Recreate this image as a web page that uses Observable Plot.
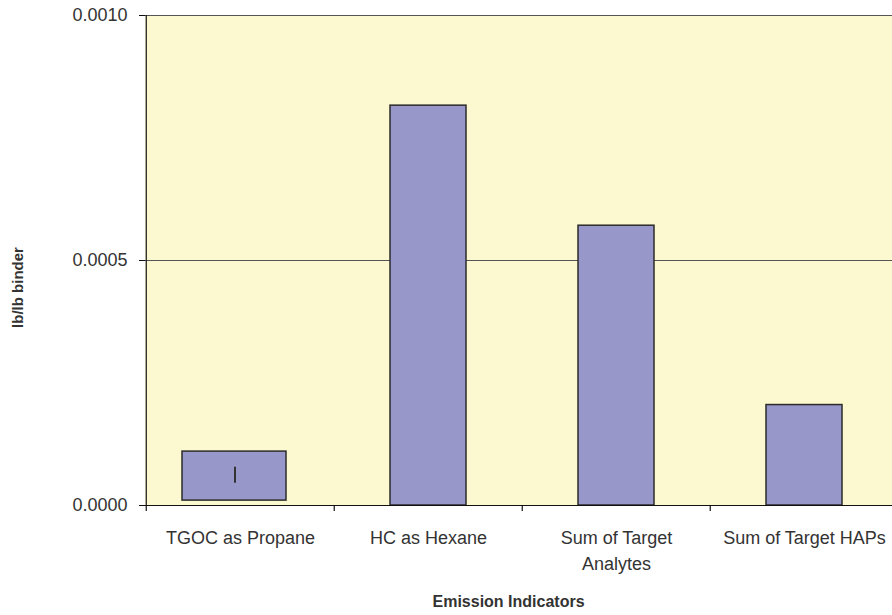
<!DOCTYPE html>
<html>
<head>
<meta charset="utf-8">
<script src="https://cdn.jsdelivr.net/npm/d3@7"></script>
<script src="https://cdn.jsdelivr.net/npm/@observablehq/plot@0.6"></script>
<style>
  html, body { margin: 0; padding: 0; background: #ffffff; overflow: hidden; }
  #chart svg { display: block; max-width: none !important; width: 900px !important; height: 615px !important; }
</style>
</head>
<body>
<div id="chart"></div>
<script>
// ---- data ----
const categories = ["TGOC as Propane", "HC as Hexane", "Sum of Target Analytes", "Sum of Target HAPs"];
const tickLabels = ["TGOC as Propane", "HC as Hexane", "Sum of Target\nAnalytes", "Sum of Target HAPs"];
const lowValues  = [0.00001, 0, 0, 0];
const highValues = [0.00011, 0.000816, 0.000571, 0.000205];
const errorCategory = ["TGOC as Propane"];
const errorLow  = [0.0000455];
const errorHigh = [0.0000782];
const yTicks = [0, 0.0005, 0.0010];
const yTitle = "lb/lb binder";
const xTitle = "Emission Indicators";

const bars = categories.map((c, i) => ({cat: c, lo: lowValues[i], hi: highValues[i]}));
const errs = errorCategory.map((c, i) => ({cat: c, lo: errorLow[i], hi: errorHigh[i]}));
const labelOf = new Map(categories.map((c, i) => [c, tickLabels[i]]));

const barFill = "#9797C9";
const barStroke = "#2b2b2b";

const chart = Plot.plot({
  width: 900,
  height: 615,
  marginLeft: 145,
  marginRight: 1,
  marginTop: 15,
  marginBottom: 110,
  style: {fontFamily: "'Liberation Sans', Arial, sans-serif", color: "#333", background: "#ffffff"},
  x: {domain: categories, padding: 0, axis: null},
  y: {domain: [0, 0.0010], axis: null},
  marks: [
    Plot.frame({fill: "#FCF8CF", stroke: null}),
    Plot.gridY(yTicks.filter(d => d > 0), {stroke: "#555", strokeOpacity: 1, strokeWidth: 1}),
    Plot.barY(bars.filter((d, i) => i === 0), {x: "cat", y1: "lo", y2: "hi", fill: barFill, stroke: barStroke, strokeWidth: 1.5, insetLeft: 36, insetRight: 48}),
    Plot.barY(bars.filter((d, i) => i > 0), {x: "cat", y1: "lo", y2: "hi", fill: barFill, stroke: barStroke, strokeWidth: 1.5, insetLeft: 56, insetRight: 56}),
    Plot.ruleX(errs, {x: "cat", y1: "lo", y2: "hi", dx: -5.5, stroke: "#333", strokeWidth: 2}),
    Plot.ruleY([0], {stroke: "#111", strokeWidth: 1.2}),
    Plot.ruleX([0], {x: () => categories[0], dx: -94.25, y1: 0, y2: 0.0010, stroke: "#111", strokeWidth: 1.2}),
    Plot.ruleX(categories, {x: d => d, dx: -94.25, y1: 0, y2: 0, insetBottom: -6, stroke: "#111", strokeWidth: 1.2}),
    Plot.axisY({ticks: yTicks, tickFormat: d3.format(".4f"), tickSize: 6, tickPadding: 12, fontSize: 18, label: null, stroke: "#111"}),
    Plot.axisX({tickSize: 0, tickPadding: 20, fontSize: 18, label: null, tickFormat: d => labelOf.get(d), lineHeight: 1.45}),
    Plot.text([yTitle], {frameAnchor: "left", textAnchor: "middle", lineAnchor: "middle", dx: -127, dy: 27, rotate: -90, fontSize: 15, fontWeight: "bold", fill: "#333"}),
    Plot.text([xTitle], {frameAnchor: "bottom", textAnchor: "middle", lineAnchor: "middle", dx: -14, dy: 96, fontSize: 16, fontWeight: "bold", fill: "#333"})
  ]
});
document.getElementById("chart").appendChild(chart);
</script>
</body>
</html>
